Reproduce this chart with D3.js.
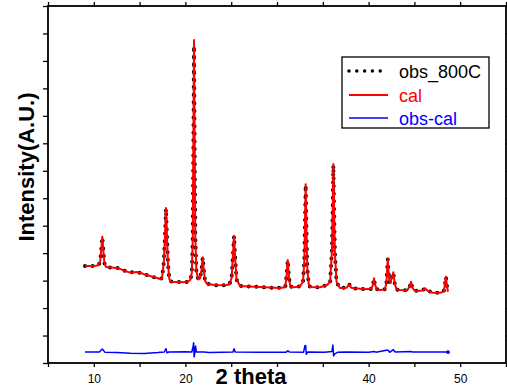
<!DOCTYPE html>
<html>
<head>
<meta charset="utf-8">
<script src="https://cdn.jsdelivr.net/npm/d3@7"></script>
<style>
  html, body { margin: 0; padding: 0; background: #fff; }
  svg { display: block; font-family: "Liberation Sans", Arial, sans-serif; }
</style>
</head>
<body>
<svg id="chart" width="507" height="391"></svg>
<script>
// Rietveld refinement profile: observed, calculated and difference patterns
const twoTheta = [
  9.04, 9.6, 10.2, 10.5, 10.7, 10.82, 10.93, 11.04, 11.15, 11.33,
  11.9, 12.53, 13.0, 13.41, 13.9, 14.28, 14.7, 15.04, 15.4, 15.81,
  16.4, 16.9, 17.23, 17.45, 17.65, 17.78, 17.88, 17.98, 18.1, 18.25,
  18.43, 19.19, 19.8, 20.28, 20.55, 20.7, 20.8, 20.87, 20.94, 21.01,
  21.08, 21.2, 21.4, 21.6, 21.76, 21.89, 22.02, 22.15, 22.36, 23.23,
  24.32, 24.8, 25.05, 25.2, 25.31, 25.42, 25.58, 25.96, 27.0, 28.14,
  29.2, 30.33, 30.9, 31.05, 31.17, 31.29, 31.45, 31.9, 32.5, 32.84,
  32.98, 33.05, 33.13, 33.21, 33.3, 33.45, 33.6, 34.69, 35.46, 35.8,
  36.0, 36.08, 36.15, 36.23, 36.32, 36.5, 36.88, 37.6, 37.89, 38.1,
  38.52, 39.61, 40.3, 40.48, 40.59, 40.7, 40.9, 41.24, 41.8, 41.95,
  42.09, 42.22, 42.34, 42.52, 42.7, 42.85, 43.05, 43.43, 44.2, 44.5,
  44.63, 44.76, 45.0, 45.39, 45.9, 46.16, 46.4, 46.92, 47.79, 48.2,
  48.35, 48.45, 48.55, 48.67
];
const calI = [
  3530, 3530, 3540, 3560, 3700, 4150, 4600, 4100, 3650, 3500,
  3480, 3460, 3410, 3350, 3300, 3300, 3310, 3290, 3240, 3205,
  3140, 3095, 3060, 3080, 3700, 4700, 5645, 4700, 3600, 3050,
  2961, 2950, 2945, 2955, 3030, 3300, 4500, 8000, 11760, 8000,
  4600, 3350, 3040, 3080, 3400, 3850, 3350, 2990, 2880, 2840,
  2830, 2860, 3100, 4000, 4636, 3900, 3050, 2804, 2790, 2768,
  2750, 2731, 2760, 3200, 3751, 3200, 2780, 2760, 2790, 2961,
  3700, 5000, 6508, 5000, 3500, 2900, 2770, 2760, 2840, 2950,
  4100, 5600, 7247, 5600, 4000, 2950, 2731, 2740, 2866, 2740,
  2720, 2684, 2700, 2850, 3084, 2850, 2680, 2658, 2680, 2950,
  3787, 3100, 2913, 3080, 3303, 2900, 2680, 2658, 2640, 2800,
  2961, 2760, 2640, 2622, 2640, 2720, 2640, 2560, 2560, 2600,
  2900, 3143, 2800, 2597
];
const obsI = [
  3530, 3525, 3545, 3560, 3690, 4160, 4580, 4110, 3640, 3505,
  3475, 3465, 3405, 3355, 3300, 3305, 3315, 3285, 3245, 3200,
  3145, 3090, 3065, 3085, 3690, 4710, 5620, 4690, 3610, 3045,
  2965, 2945, 2950, 2950, 3035, 3290, 4520, 7950, 11550, 7980,
  4620, 3340, 3045, 3075, 3410, 3840, 3360, 2985, 2885, 2835,
  2835, 2855, 3110, 3990, 4620, 3910, 3040, 2810, 2785, 2770,
  2745, 2735, 2755, 3210, 3740, 3190, 2785, 2755, 2795, 2955,
  3720, 5010, 6480, 4990, 3510, 2890, 2775, 2755, 2845, 2945,
  4120, 5610, 7200, 5580, 4010, 2940, 2735, 2745, 2860, 2745,
  2715, 2690, 2695, 2855, 3070, 2845, 2685, 2655, 2685, 2940,
  3770, 3110, 2905, 3085, 3290, 2905, 2675, 2660, 2645, 2795,
  2950, 2765, 2635, 2625, 2645, 2715, 2645, 2565, 2555, 2605,
  2890, 3130, 2805, 2600
];

// Difference curve (obs - cal), plotted with an offset below the profile
const diffTheta = [
  9.04, 10.6, 10.93, 11.2, 12.5, 14.0, 15.5, 17.0, 17.7, 17.88,
  17.98, 18.2, 20.0, 20.7, 20.85, 20.9, 20.95, 21.0, 21.1, 21.2,
  22.0, 22.6, 24.0, 25.2, 25.31, 25.45, 28.0, 31.0, 31.17, 31.35,
  32.9, 33.05, 33.13, 33.2, 33.35, 35.2, 36.0, 36.1, 36.18, 36.3,
  36.6, 37.5, 40.0, 40.6, 40.8, 42.09, 42.3, 42.7, 42.9, 44.6,
  44.8, 48.45, 48.67
];
const diffI = [
  400, 400, 510, 395, 380, 355, 350, 380, 400, 521,
  375, 400, 410, 400, 620, 739, 229, 300, 620, 400,
  400, 385, 390, 400, 521, 400, 390, 395, 448, 400,
  395, 630, 640, 317, 400, 395, 420, 655, 255, 330,
  390, 400, 395, 420, 395, 470, 390, 484, 400, 420,
  400, 405, 395
];

// Axis ticks and labels (the label at 30 sits under the axis title)
const xTicks = [5, 10, 15, 20, 25, 30, 35, 40, 45, 50, 55];
const xLabels = [10, 20, 40, 50];
const yTicks = [0, 1000, 2000, 3000, 4000, 5000, 6000, 7000, 8000, 9000, 10000, 11000, 12000, 13000];

const seriesNames = ["obs_800C", "cal", "obs-cal"];
const seriesColors = ["#000000", "#ff0000", "#0000ff"];

const svg = d3.select("#chart");
const plotLeft = 48, plotRight = 506, plotTop = 6, plotBottom = 363;

const x = d3.scaleLinear().domain([5, 55]).range([plotLeft, plotRight]);
const y = d3.scaleLinear().domain([0, 13000]).range([plotBottom, plotTop]);

const profile = twoTheta.map((t, i) => ({ t, obs: obsI[i], cal: calI[i] }));
const diff = diffTheta.map((t, i) => ({ t, v: diffI[i] }));

// Axes (ticks outward on all four sides)
function styleAxis(g) {
  g.select(".domain").remove();
  g.selectAll(".tick line").attr("stroke", "#000").attr("stroke-width", 1.3);
  g.selectAll(".tick text").attr("font-size", 12).attr("fill", "#000")
    .attr("font-family", "'Liberation Sans', Arial, sans-serif");
}

svg.append("g")
  .attr("transform", `translate(0,${plotBottom})`)
  .call(d3.axisBottom(x).tickValues(xTicks).tickSize(4).tickPadding(7)
    .tickFormat(d => xLabels.includes(d) ? d : ""))
  .call(styleAxis);

svg.append("g")
  .attr("transform", `translate(0,${plotTop})`)
  .call(d3.axisTop(x).tickValues(xTicks).tickSize(4).tickFormat(""))
  .call(styleAxis);

svg.append("g")
  .attr("transform", `translate(${plotLeft},0)`)
  .call(d3.axisLeft(y).tickValues(yTicks).tickSize(5).tickFormat(""))
  .call(styleAxis);

svg.append("g")
  .attr("transform", `translate(${plotRight},0)`)
  .call(d3.axisRight(y).tickValues(yTicks).tickSize(5).tickFormat(""))
  .call(styleAxis);

// Plot frame
svg.append("rect")
  .attr("x", plotLeft).attr("y", plotTop)
  .attr("width", plotRight - plotLeft).attr("height", plotBottom - plotTop)
  .attr("fill", "none").attr("stroke", "#000").attr("stroke-width", 1.8);

// Observed pattern (dotted)
svg.append("path")
  .datum(profile)
  .attr("fill", "none")
  .attr("stroke", seriesColors[0])
  .attr("stroke-width", 4)
  .attr("stroke-linecap", "round")
  .attr("stroke-dasharray", "0,7.6")
  .attr("d", d3.line().x(d => x(d.t)).y(d => y(d.obs)));

// Calculated pattern
svg.append("path")
  .datum(profile)
  .attr("fill", "none")
  .attr("stroke", seriesColors[1])
  .attr("stroke-width", 2)
  .attr("stroke-linejoin", "round")
  .attr("d", d3.line().x(d => x(d.t)).y(d => y(d.cal)));

// Difference curve
svg.append("path")
  .datum(diff)
  .attr("fill", "none")
  .attr("stroke", seriesColors[2])
  .attr("stroke-width", 1.5)
  .attr("stroke-linejoin", "round")
  .attr("d", d3.line().x(d => x(d.t)).y(d => y(d.v)));

svg.append("circle")
  .attr("cx", x(diff[diff.length - 1].t))
  .attr("cy", y(diff[diff.length - 1].v))
  .attr("r", 1.8)
  .attr("fill", seriesColors[2]);

// Axis titles
svg.append("text")
  .attr("x", 251).attr("y", 384)
  .attr("text-anchor", "middle")
  .attr("font-size", 22).attr("font-weight", "bold")
  .text("2 theta");

svg.append("text")
  .attr("transform", "translate(34,167) rotate(-90)")
  .attr("text-anchor", "middle")
  .attr("font-size", 22).attr("font-weight", "bold")
  .text("Intensity(A.U.)");

// Legend
const legend = svg.append("g");
legend.append("rect")
  .attr("x", 342).attr("y", 57).attr("width", 147).attr("height", 71)
  .attr("fill", "#fff").attr("stroke", "#000").attr("stroke-width", 1.3);

const rowY = [71, 95, 118];
seriesNames.forEach((name, i) => {
  const line = legend.append("line")
    .attr("x1", 349).attr("x2", 388)
    .attr("y1", rowY[i]).attr("y2", rowY[i])
    .attr("stroke", seriesColors[i]);
  if (i === 0) {
    line.attr("stroke-width", 3.5).attr("stroke-linecap", "round").attr("stroke-dasharray", "0,7.8");
  } else {
    line.attr("stroke-width", i === 1 ? 2 : 1.5);
  }
  legend.append("text")
    .attr("x", 399).attr("y", rowY[i] + 6.5)
    .attr("font-size", 18)
    .attr("fill", seriesColors[i])
    .text(name);
});
</script>
</body>
</html>
